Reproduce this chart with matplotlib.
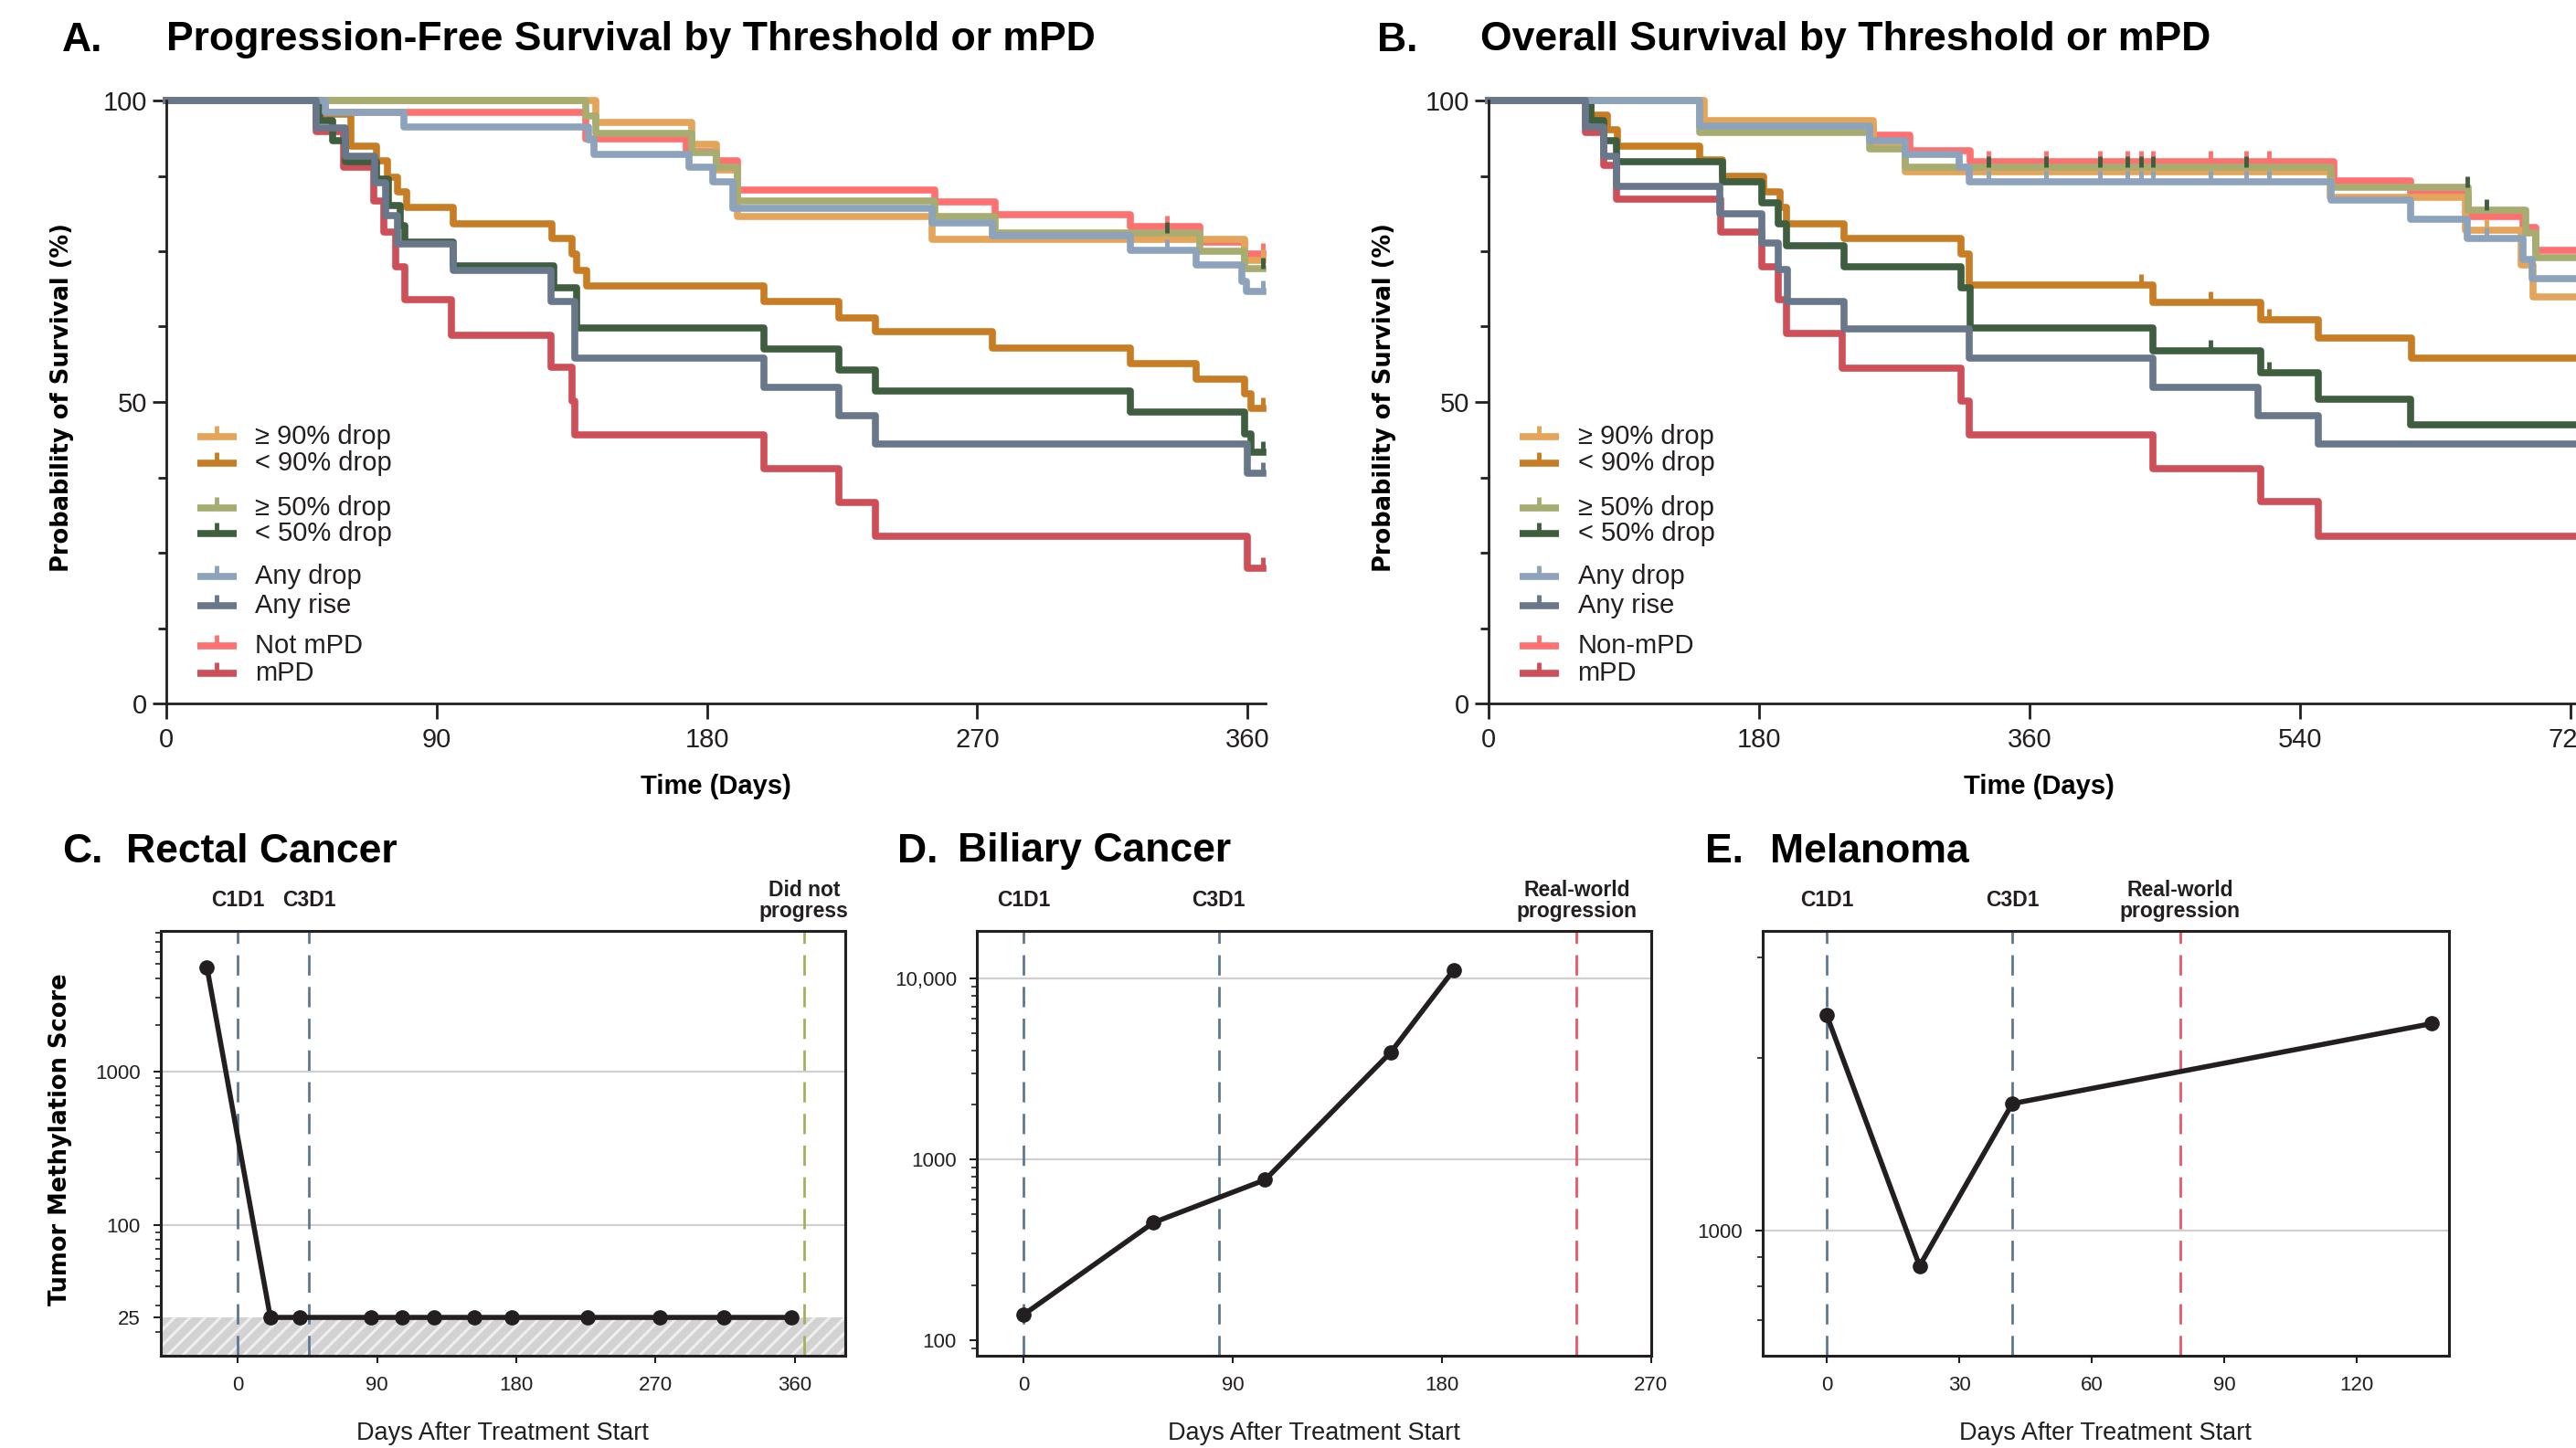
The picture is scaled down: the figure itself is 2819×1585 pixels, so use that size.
import numpy as np
import matplotlib
matplotlib.use('Agg')
import matplotlib.pyplot as plt
from matplotlib.ticker import LogLocator, NullFormatter, MultipleLocator
from matplotlib.transforms import blended_transform_factory

plt.rcParams['font.family'] = ['Liberation Sans', 'DejaVu Sans']
plt.rcParams['hatch.color'] = '#EFEFEF'
plt.rcParams['hatch.linewidth'] = 2.2

W, H = 2819, 1585

# colours of the groups
c_ge90 = '#E4A55B'
c_lt90 = '#C87D24'
c_ge50 = '#A7AD71'
c_lt50 = '#3F5E40'
c_anydrop = '#8DA3BC'
c_anyrise = '#687789'
c_notmpd = '#FF7070'
c_mpd = '#CF4F58'
c_ink = '#231F20'

# ---------------- Panel A : PFS (day of drop, survival % after drop) ----------------
pfs_ge90_t = [143, 175, 183, 190, 255, 359]
pfs_ge90_s = [96.4, 92.7, 88.5, 80.8, 77.0, 73.5]
pfs_lt90_t = [53, 61.5, 70, 73.5, 77, 80, 95.5, 128.5, 135, 136.5, 140, 199, 224, 236, 275, 321, 343, 359, 361]
pfs_lt90_s = [97.8, 92.5, 90.0, 87.3, 84.9, 82.2, 79.6, 77.1, 74.5, 71.8, 69.3, 66.7, 64.0, 61.6, 59.0, 56.4, 53.8, 51.3, 49.0]
pfs_ge50_t = [139.5, 143, 175, 183, 190, 256, 276, 344, 359]
pfs_ge50_s = [97.5, 94.6, 91.4, 88.9, 83.4, 80.8, 78.0, 75.0, 72.1]
pfs_lt50_t = [51, 55.5, 59.5, 70, 74, 78, 79.5, 95.5, 129, 136.5, 199, 224, 236, 321, 359, 361]
pfs_lt50_s = [96.6, 93.4, 89.9, 86.9, 82.6, 79.2, 76.5, 72.6, 69.0, 62.3, 58.8, 55.3, 51.8, 48.4, 44.7, 41.7]
pfs_anydrop_t = [53, 79, 140.5, 142.5, 174, 182, 188.5, 255, 275, 321, 343, 358, 359.5]
pfs_anydrop_s = [98.0, 95.6, 93.5, 91.1, 88.9, 86.5, 82.1, 79.7, 77.6, 75.1, 72.8, 70.0, 68.4]
pfs_anyrise_t = [50, 59.5, 69.5, 73, 77, 95.5, 128, 136, 199, 224, 236, 360]
pfs_anyrise_s = [95.5, 90.7, 86.3, 80.9, 76.2, 71.8, 66.7, 57.2, 52.5, 47.7, 43.0, 38.2]
pfs_notmpd_t = [50.5, 139.5, 173, 183, 190, 256, 276, 321, 344, 359]
pfs_notmpd_s = [98.0, 93.6, 91.5, 90.0, 85.2, 83.2, 81.1, 79.1, 76.5, 74.5]
pfs_mpd_t = [50, 59, 69, 72.5, 76.5, 79.5, 95, 128, 135, 136, 199, 224, 236, 360]
pfs_mpd_s = [94.8, 89.0, 83.4, 78.2, 72.4, 66.9, 61.1, 55.7, 50.1, 44.6, 38.9, 33.4, 27.8, 22.4]
pfs_censor_end = [365]
pfs_censor_mid = [333]

# ---------------- Panel B : OS ----------------
os_ge90_t = [143.5, 256, 277, 560, 650, 687, 695]
os_ge90_s = [96.6, 93.0, 88.2, 84.0, 78.5, 72.7, 67.4]
os_ge90_cens = [664]
os_lt90_t = [68, 79, 86, 140.5, 155.5, 183, 194, 198, 236.5, 314.5, 320, 442, 513.5, 552, 614]
os_lt90_s = [97.6, 95.1, 92.4, 90.1, 87.4, 84.8, 82.3, 79.6, 77.1, 74.5, 69.4, 66.5, 63.6, 60.6, 57.2]
os_lt90_cens = [434, 480, 519]
os_ge50_t = [140.5, 253.5, 277, 560.5, 652, 690, 697]
os_ge50_s = [94.7, 91.9, 89.0, 85.6, 81.8, 78.0, 74.0]
os_ge50_cens = [332.5, 371, 407, 425, 434, 442, 504, 651, 664]
os_lt50_t = [68, 76.6, 85.2, 155.5, 182, 193, 198, 236.5, 314.5, 320.5, 442, 513.5, 552, 613.7]
os_lt50_s = [96.6, 93.4, 89.9, 86.5, 83.1, 79.5, 75.9, 72.4, 69.0, 62.3, 58.5, 54.8, 50.4, 46.2]
os_lt50_cens = [480, 519]
os_anydrop_t = [140.5, 253.5, 277, 313, 319.5, 560.5, 613.7, 651, 688, 694.5]
os_anydrop_s = [95.7, 93.3, 91.1, 88.9, 86.5, 83.5, 80.3, 77.1, 73.7, 70.5]
os_anydrop_cens = [332.5, 371, 407, 425, 434, 442, 480, 504, 519, 664]
os_anyrise_t = [64.7, 76.6, 85.2, 154, 182, 193, 199, 236.5, 319.6, 442, 512, 552]
os_anyrise_s = [95.6, 90.7, 85.8, 81.2, 76.3, 71.9, 66.7, 62.1, 57.2, 52.5, 47.7, 43.0]
os_nonmpd_t = [142.7, 255.7, 280.4, 320.4, 562.5, 613.7, 652, 688, 697]
os_nonmpd_s = [95.7, 94.2, 91.7, 89.9, 86.7, 84.6, 80.8, 79.0, 75.1]
os_nonmpd_cens = [332.5, 371, 407, 425, 434, 442, 480, 504, 519]
os_mpd_t = [64.7, 76.6, 85.2, 154.2, 182, 193, 198, 235.2, 314.5, 319.6, 442, 513.5, 552]
os_mpd_s = [94.7, 89.3, 83.6, 78.2, 72.4, 67.0, 61.3, 55.6, 50.1, 44.6, 39.0, 33.5, 27.8]

legend_pfs = ['\u2265 90% drop', '< 90% drop', '\u2265 50% drop', '< 50% drop',
              'Any drop', 'Any rise', 'Not mPD', 'mPD']
legend_os = ['\u2265 90% drop', '< 90% drop', '\u2265 50% drop', '< 50% drop',
             'Any drop', 'Any rise', 'Non-mPD', 'mPD']
legend_colors = [c_ge90, c_lt90, c_ge50, c_lt50, c_anydrop, c_anyrise, c_notmpd, c_mpd]

# ---------------- Panels C-E : patient tumour methylation scores ----------------
rectal_days = [-20, 21, 40, 86, 106, 127, 153, 177, 226, 273, 314, 358]
rectal_score = [4750, 25, 25, 25, 25, 25, 25, 25, 25, 25, 25, 25]
biliary_days = [0, 56, 104, 158, 185]
biliary_score = [138, 447, 770, 3900, 11100]
melanoma_days = [0, 21, 42, 137]
melanoma_score = [2376, 869, 1667, 2299]

LW = 5.5


def km(ax, t, s, end, color, cens=(), cens_color=None):
    x = np.r_[0, t, end]
    y = np.r_[100, s, s[-1]]
    ax.step(x, y, where='post', color=color, lw=LW, clip_on=False)
    if len(cens):
        idx = np.searchsorted(x, cens, side='right') - 1
        ax.plot(cens, y[idx], ls='none', marker=2, ms=9, mew=3.5,
                color=cens_color or color, clip_on=False)


def style_km(ax, xmax, xticks, labels):
    ax.set_xlim(0, xmax)
    ax.set_ylim(0, 100)
    ax.set_xticks(xticks)
    ax.set_yticks([0, 50, 100])
    ax.yaxis.set_minor_locator(MultipleLocator(12.5))
    for sp in ['top', 'right']:
        ax.spines[sp].set_visible(False)
    for sp in ['left', 'bottom']:
        ax.spines[sp].set_linewidth(2)
        ax.spines[sp].set_color(c_ink)
    ax.tick_params(axis='x', length=12, width=2, labelsize=21, pad=7, colors=c_ink)
    ax.tick_params(axis='y', which='major', length=11, width=2, labelsize=21, pad=4, colors=c_ink)
    ax.tick_params(axis='y', which='minor', length=6.5, width=2, colors=c_ink)
    ax.set_xlabel('Time (Days)', fontsize=21, fontweight='bold')
    ax.xaxis.set_label_coords(0.5, -0.117)
    ax.set_ylabel('Probability of Survival (%)', fontsize=18.5, fontweight='bold',
                  family='DejaVu Sans')
    ax.yaxis.set_label_coords(-0.084, 0.508)
    # legend drawn by hand: groups of two with gaps
    rows = [0.442, 0.398, 0.324, 0.282, 0.211, 0.162, 0.095, 0.050]
    for yy, lab, col in zip(rows, labels, legend_colors):
        ax.plot([0.028, 0.064], [yy, yy], color=col, lw=LW, transform=ax.transAxes,
                solid_capstyle='butt', clip_on=False)
        ax.plot([0.046], [yy], marker=2, ms=9, mew=3.5, color=col, transform=ax.transAxes)
        ax.text(0.081, yy, lab, fontsize=21, va='center', ha='left',
                transform=ax.transAxes, color=c_ink)


fig = plt.figure(figsize=(W / 100, H / 100), dpi=100)

# ---- A ----
axA = fig.add_axes([182 / W, 1 - 770 / H, 1203 / W, 660 / H])
km(axA, pfs_notmpd_t, pfs_notmpd_s, 365, c_notmpd, pfs_censor_mid + pfs_censor_end)
km(axA, pfs_mpd_t, pfs_mpd_s, 365, c_mpd, pfs_censor_end)
km(axA, pfs_ge90_t, pfs_ge90_s, 365, c_ge90, pfs_censor_end)
km(axA, pfs_lt90_t, pfs_lt90_s, 365, c_lt90, pfs_censor_end)
km(axA, pfs_ge50_t, pfs_ge50_s, 365, c_ge50, pfs_censor_mid + pfs_censor_end, c_lt50)
km(axA, pfs_lt50_t, pfs_lt50_s, 365, c_lt50, pfs_censor_end)
km(axA, pfs_anydrop_t, pfs_anydrop_s, 365, c_anydrop, pfs_censor_mid + pfs_censor_end)
km(axA, pfs_anyrise_t, pfs_anyrise_s, 365, c_anyrise, pfs_censor_end)
style_km(axA, 366, [0, 90, 180, 270, 360], legend_pfs)

# ---- B ----
axB = fig.add_axes([1629 / W, 1 - 770 / H, 1204 / W, 660 / H])
km(axB, os_nonmpd_t, os_nonmpd_s, 732, c_notmpd, os_nonmpd_cens)
km(axB, os_mpd_t, os_mpd_s, 732, c_mpd)
km(axB, os_ge90_t, os_ge90_s, 732, c_ge90, os_ge90_cens)
km(axB, os_lt90_t, os_lt90_s, 732, c_lt90, os_lt90_cens)
km(axB, os_ge50_t, os_ge50_s, 732, c_ge50, os_ge50_cens, c_lt50)
km(axB, os_lt50_t, os_lt50_s, 732, c_lt50, os_lt50_cens)
km(axB, os_anydrop_t, os_anydrop_s, 732, c_anydrop, os_anydrop_cens)
km(axB, os_anyrise_t, os_anyrise_s, 732, c_anyrise)
style_km(axB, 732, [0, 180, 360, 540, 720], legend_os)

title_kw = dict(fontsize=32, fontweight='bold', va='center', color='black')
fig.text(68 / W, 1 - 44 / H, 'A.', **title_kw)
fig.text(182 / W, 1 - 44 / H, 'Progression-Free Survival by Threshold or mPD', **title_kw)
fig.text(1507 / W, 1 - 44 / H, 'B.', **title_kw)
fig.text(1620 / W, 1 - 44 / H, 'Overall Survival by Threshold or mPD', **title_kw)


# ---- C, D, E ----
def patient(ax, days, score, xlim, xticks, ylim, yticks, ylabels, grid, events):
    ax.set_yscale('log')
    ax.set_xlim(*xlim)
    ax.set_ylim(*ylim)
    ax.set_xticks(xticks)
    ax.set_yticks(yticks, ylabels)
    ax.yaxis.set_minor_locator(LogLocator(base=10, subs=np.arange(2, 10), numticks=30))
    ax.yaxis.set_minor_formatter(NullFormatter())
    for g in grid:
        ax.axhline(g, color='#CFCFCF', lw=1.6, zorder=0)
    tr = blended_transform_factory(ax.transData, ax.transAxes)
    for x, lab, col in events:
        ax.axvline(x, color=col, lw=2, ls=(0, (8, 4.5)), zorder=2)
        ax.text(x, 1.072, lab, transform=tr, ha='center', va='center', fontsize=16.5,
                fontweight='bold', color=c_ink, linespacing=1.0)
    ax.plot(days, score, '-o', color=c_ink, lw=4, ms=11, zorder=5)
    for sp in ax.spines.values():
        sp.set_linewidth(2.2)
        sp.set_color(c_ink)
    ax.tick_params(axis='both', which='major', length=6, width=1.5, labelsize=16,
                   pad=10, colors=c_ink)
    ax.tick_params(axis='y', which='minor', length=4, width=1.2, colors=c_ink)
    ax.set_xlabel('Days After Treatment Start', fontsize=19.5, color=c_ink)
    ax.xaxis.set_label_coords(0.5, -0.155)


c_cycle = '#5E7891'
c_prog = '#EE5464'
c_noprog = '#A8AE5E'

axC = fig.add_axes([175.7 / W, 101.1 / H, 749 / W, 464.5 / H])
axC.axhspan(1, 25, facecolor='#D2D2D2', edgecolor='#EFEFEF', hatch='//', lw=0, zorder=1)
patient(axC, rectal_days, rectal_score, (-50, 392.5), [0, 90, 180, 270, 360],
        (14.1, 8150), [25, 100, 1000], ['25', '100', '1000'], [100, 1000],
        [(0, 'C1D1', c_cycle), (46, 'C3D1', c_cycle), (366, 'Did not\nprogress', c_noprog)])
axC.set_ylabel('Tumor Methylation Score', fontsize=18.5, fontweight='bold',
               family='DejaVu Sans')
axC.yaxis.set_label_coords(-0.129, 0.51)

axD = fig.add_axes([1069.1 / W, 101.1 / H, 737.6 / W, 464.5 / H])
patient(axD, biliary_days, biliary_score, (-20, 270), [0, 90, 180, 270],
        (82, 18250), [100, 1000, 10000], ['100', '1000', '10,000'], [1000, 10000],
        [(0, 'C1D1', c_cycle), (84, 'C3D1', c_cycle), (238, 'Real-world\nprogression', c_prog)])

axE = fig.add_axes([1929.1 / W, 101.1 / H, 750.5 / W, 464.5 / H])
patient(axE, melanoma_days, melanoma_score, (-14.5, 140.8), [0, 30, 60, 90, 120],
        (606, 3330), [1000], ['1000'], [1000],
        [(0, 'C1D1', c_cycle), (42, 'C3D1', c_cycle), (80, 'Real-world\nprogression', c_prog)])

fig.text(68 / W, 1 - 932 / H, 'C.', **title_kw)
fig.text(138 / W, 1 - 932 / H, 'Rectal Cancer', **title_kw)
fig.text(982 / W, 1 - 932 / H, 'D.', **title_kw)
fig.text(1048 / W, 1 - 932 / H, 'Biliary Cancer', **title_kw)
fig.text(1866 / W, 1 - 932 / H, 'E.', **title_kw)
fig.text(1937 / W, 1 - 932 / H, 'Melanoma', **title_kw)

fig.savefig('out.png', dpi=100)
